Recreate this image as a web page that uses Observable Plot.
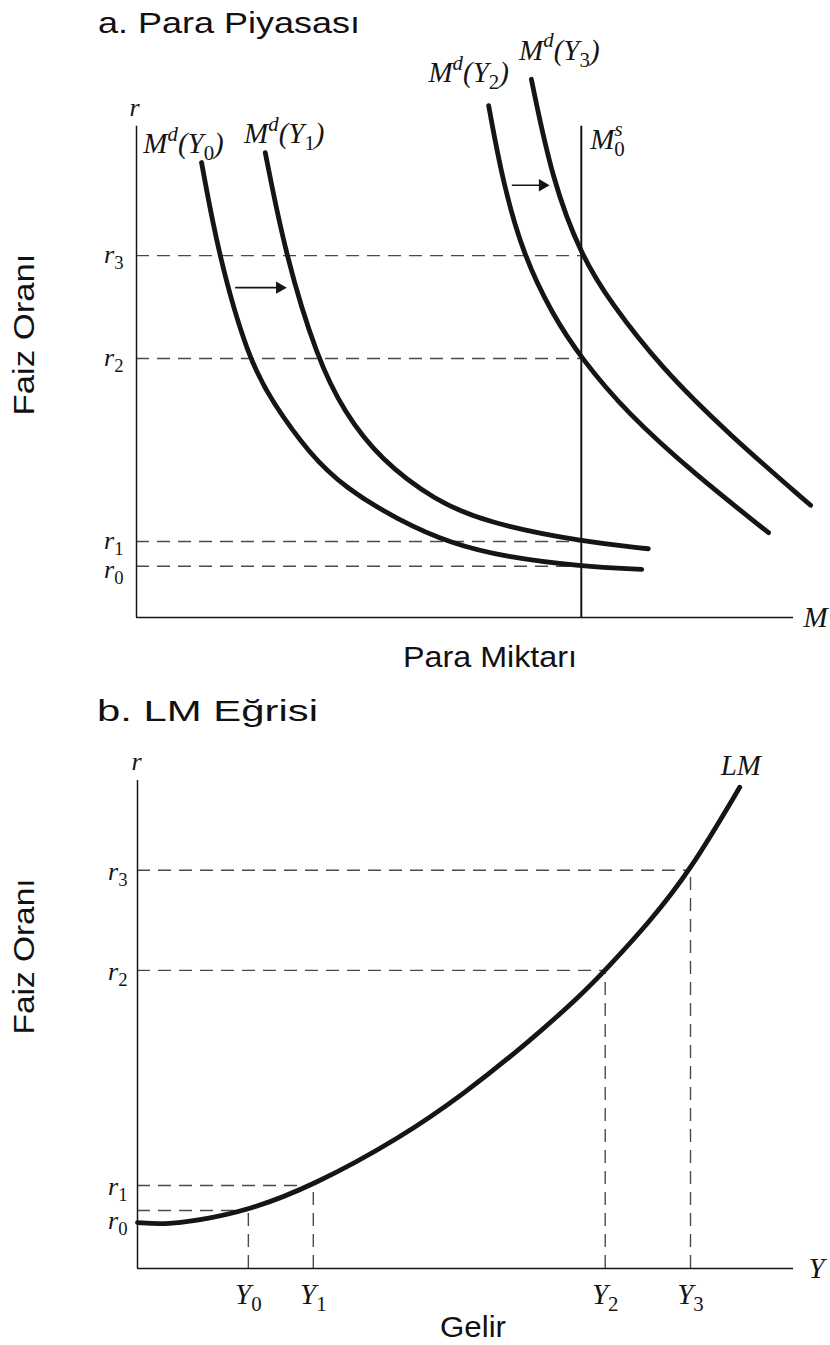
<!DOCTYPE html>
<html><head><meta charset="utf-8">
<script src="https://cdn.jsdelivr.net/npm/d3@7"></script>
<script src="https://cdn.jsdelivr.net/npm/@observablehq/plot@0.6"></script>
<style>
html,body{margin:0;padding:0;background:#fff;}
#wrap{position:relative;width:830px;height:1345px;overflow:hidden;background:#fff;}
.sans{position:absolute;font-family:"Liberation Sans",Arial,sans-serif;font-size:29px;line-height:29px;color:#111;white-space:nowrap;transform-origin:0 0;}
#wrap svg{position:absolute;left:0;}
</style></head><body><div id="wrap"></div>
<script>
// ---------- DATA (abstract units 0..100) ----------
// Panel a: money market
const rNames = ["r_0", "r_1", "r_2", "r_3"];
const rTopValues = [9.9, 14.7, 50.1, 70.0];
const moneySupply = 67.7;            // M0^s
const moneySupplyTop = 95;
const rAxisTop = 95;

const mdNames = ["M^d(Y_0)", "M^d(Y_1)", "M^d(Y_2)", "M^d(Y_3)"];
const md0M = [9.9, 12.5, 17.0, 20.8, 26.3, 31.7, 39.9, 47.9, 56.2, 67.7, 76.9];
const md0R = [88.0, 70.0, 50.1, 41.4, 31.7, 25.1, 18.8, 14.3, 11.7, 9.9, 9.3];
const md1M = [19.6, 22.7, 27.5, 31.7, 37.1, 45.4, 53.4, 67.7, 77.9];
const md1R = [89.9, 70.0, 50.1, 39.5, 30.6, 22.6, 18.3, 14.7, 13.3];
const md2M = [53.6, 55.7, 58.8, 63.2, 67.7, 74.7, 84.8, 96.2];
const md2R = [99.0, 84.5, 70.4, 58.8, 50.1, 39.5, 27.9, 16.4];
const md3M = [60.1, 63.3, 67.7, 72.1, 79.8, 90.0, 102.6];
const md3R = [104.1, 84.5, 70.0, 61.0, 48.4, 35.6, 21.7];

const shiftFromM = [15.1, 57.2];
const shiftToM = [22.4, 62.4];
const shiftR = [63.8, 83.6];

// Panel b: LM curve
const rBottomValues = [11.9, 17.0, 61.1, 81.6];
const yNames = ["Y_0", "Y_1", "Y_2", "Y_3"];
const yValues = [16.9, 26.8, 71.3, 84.3];
const lmY = [0, 4.0, 9.1, 16.9, 26.8, 40.1, 49.7, 59.9, 67.5, 71.3, 78.0, 84.3, 91.8];
const lmR = [9.4, 9.0, 9.8, 11.9, 17.0, 26.8, 35.7, 46.7, 55.9, 61.1, 70.9, 81.6, 98.6];

// ---------- tables built from the arrays ----------
const mdSeries = [[md0M, md0R], [md1M, md1R], [md2M, md2R], [md3M, md3R]];
const mdData = mdSeries.flatMap(([m, r], i) => m.map((v, j) => ({curve: mdNames[i], m: v, r: r[j]})));
const mdStarts = mdSeries.map(([m, r], i) => ({name: mdNames[i], m: m[0], r: r[0]}));
const rTop = rNames.map((n, i) => ({name: n, r: rTopValues[i]}));
const shifts = shiftR.map((r, i) => ({x1: shiftFromM[i], x2: shiftToM[i], r}));
const rBot = rNames.map((n, i) => ({name: n, r: rBottomValues[i], y: yValues[i], yname: yNames[i]}));
const lmData = lmY.map((v, i) => ({y: v, r: lmR[i]}));

// ---------- styles ----------
const INK = "#151515";
const DASH = "#4a4a4a";
const serif = {fontFamily: "'Liberation Serif', 'Times New Roman', serif", fontStyle: "italic", fontSize: 29, fill: INK};
const serifR = {...serif, fontSize: 26};

const labelOffsets = [[-18, -19], [19, -19], [-20, -33], [28, -29]];

const topPlot = Plot.plot({
  width: 830, height: 690,
  marginLeft: 136, marginRight: 37, marginTop: 100, marginBottom: 73,
  x: {domain: [0, 100], axis: null},
  y: {domain: [0, 100], axis: null},
  style: {background: "transparent", overflow: "visible"},
  marks: [
    Plot.ruleY(rTop, {y: "r", x1: 0, x2: moneySupply, stroke: DASH, strokeWidth: 1.4, strokeDasharray: "13,8"}),
    Plot.ruleX([0], {y1: 0, y2: rAxisTop, stroke: INK, strokeWidth: 1.5}),
    Plot.ruleY([0], {x1: 0, x2: 100, stroke: INK, strokeWidth: 1.6}),
    Plot.ruleX([moneySupply], {y1: 0, y2: moneySupplyTop, stroke: INK, strokeWidth: 2}),
    Plot.line(mdData, {x: "m", y: "r", z: "curve", curve: "basis", stroke: INK, strokeWidth: 4.8}),
    Plot.ruleY(shifts, {y: "r", x1: "x1", x2: "x2", stroke: INK, strokeWidth: 1.6}),
    Plot.dot(shifts, {x: "x2", y: "r", symbol: "triangle", rotate: 90, r: 4.6, fill: INK, stroke: "none", dx: -4}),
    ...mdStarts.map((d, i) => Plot.text([d], {x: "m", y: "r", text: "name", textAnchor: "middle", dx: labelOffsets[i][0], dy: labelOffsets[i][1], ...serif})),
    Plot.text([{t: "M^s_0"}], {x: moneySupply, y: moneySupplyTop, text: "t", textAnchor: "start", dx: 9, dy: 13, ...serif}),
    Plot.text(rTop.filter(d => d.name !== "r_0"), {x: 0, y: "r", text: "name", textAnchor: "end", dx: -13, dy: -1, ...serifR}),
    Plot.text(rTop.filter(d => d.name === "r_0"), {x: 0, y: "r", text: "name", textAnchor: "end", dx: -13, dy: 3, ...serifR}),
    Plot.text(["r"], {x: 0, y: rAxisTop, text: d => d, textAnchor: "middle", dx: -2, dy: -19, ...serifR}),
    Plot.text(["M"], {x: 100, y: 0, text: d => d, textAnchor: "start", dx: 10, ...serif})
  ]
});

const botPlot = Plot.plot({
  width: 830, height: 655,
  marginLeft: 137, marginRight: 37, marginTop: 90, marginBottom: 77,
  x: {domain: [0, 100], axis: null},
  y: {domain: [0, 100], axis: null},
  style: {background: "transparent", overflow: "visible"},
  marks: [
    Plot.ruleY(rBot, {y: "r", x1: 0, x2: "y", stroke: DASH, strokeWidth: 1.4, strokeDasharray: "13,8"}),
    Plot.ruleX(rBot, {x: "y", y1: 0, y2: "r", stroke: DASH, strokeWidth: 1.4, strokeDasharray: "13,8"}),
    Plot.ruleX([0], {y1: 0, y2: 100, stroke: INK, strokeWidth: 1.5}),
    Plot.ruleY([0], {x1: 0, x2: 100, stroke: INK, strokeWidth: 1.6}),
    Plot.line(lmData, {x: "y", y: "r", curve: "basis", stroke: INK, strokeWidth: 4.8}),
    Plot.text(rBot.filter(d => d.name !== "r_0"), {x: 0, y: "r", text: "name", textAnchor: "end", dx: -10, dy: 1, ...serifR}),
    Plot.text(rBot.filter(d => d.name === "r_0"), {x: 0, y: "r", text: "name", textAnchor: "end", dx: -10, dy: 10, ...serifR}),
    Plot.text(rBot, {x: "y", y: 0, text: "yname", textAnchor: "middle", dy: 26, ...serif}),
    Plot.text(["r"], {x: 0, y: 100, text: d => d, textAnchor: "middle", dx: -1, dy: -19, ...serifR}),
    Plot.text(["Y"], {x: 100, y: 0, text: d => d, textAnchor: "start", dx: 15, ...serif}),
    Plot.text([lmData[lmData.length - 1]], {x: "y", y: "r", text: () => "LM", textAnchor: "start", dx: -19, dy: -22, ...serif})
  ]
});

// ---------- rich text: ^x superscript, _x subscript ----------
function richify(svg) {
  const ns = "http://www.w3.org/2000/svg";
  svg.querySelectorAll("text").forEach(t => {
    const s = t.textContent;
    if (!/[\^_]/.test(s)) return;
    const g = t.closest("g[font-size]");
    const fs = g ? +g.getAttribute("font-size") : 29;
    t.textContent = "";
    let cur = 0, prevScript = false, i = 0, buf = "";
    const flush = () => {
      if (!buf) return;
      const ts = document.createElementNS(ns, "tspan");
      const dy = 0 - cur; cur = 0;
      if (dy) ts.setAttribute("dy", dy);
      ts.textContent = buf; t.appendChild(ts); buf = "";
    };
    while (i < s.length) {
      const c = s[i];
      if ((c === "^" || c === "_") && i + 1 < s.length) {
        flush();
        const ts = document.createElementNS(ns, "tspan");
        const off = c === "^" ? -0.42 * fs : 0.24 * fs;
        ts.setAttribute("dy", off - cur); cur = off;
        ts.setAttribute("font-size", 0.72 * fs);
        if (prevScript) ts.setAttribute("dx", -0.4 * 0.72 * fs);
        ts.setAttribute("font-style", c === "^" ? "italic" : "normal");
        ts.textContent = s[i + 1];
        t.appendChild(ts);
        prevScript = true;
        i += 2;
      } else {
        buf += c; i++;
        prevScript = false;
      }
    }
    flush();
  });
}
richify(topPlot);
richify(botPlot);

const wrap = document.getElementById("wrap");
topPlot.style.top = "0px";
botPlot.style.top = "690px";
wrap.appendChild(topPlot);
wrap.appendChild(botPlot);

// ---------- sans-serif titles & axis titles ----------
function sansLabel(text, left, baseline, width) {
  const el = document.createElement("div");
  el.className = "sans";
  el.textContent = text;
  wrap.appendChild(el);
  const w = el.getBoundingClientRect().width;
  el.style.left = left + "px";
  el.style.top = (baseline - 24.5) + "px";
  el.style.transform = `scaleX(${width / w})`;
}
function sansVertical(text, cx, cy, length) {
  const el = document.createElement("div");
  el.className = "sans";
  el.textContent = text;
  wrap.appendChild(el);
  const w = el.getBoundingClientRect().width;
  el.style.transformOrigin = "50% 50%";
  el.style.left = (cx - w / 2) + "px";
  el.style.top = (cy - 14.5) + "px";
  el.style.transform = `rotate(-90deg) scaleX(${length / w})`;
}
sansLabel("a. Para Piyasası", 98, 33.5, 262);
sansLabel("Para Miktarı", 403, 667, 174);
sansLabel("b. LM Eğrisi", 97, 721, 221);
sansLabel("Gelir", 440, 1337, 66);
sansVertical("Faiz Oranı", 25, 334, 162);
sansVertical("Faiz Oranı", 25, 956, 156);
</script></body></html>
